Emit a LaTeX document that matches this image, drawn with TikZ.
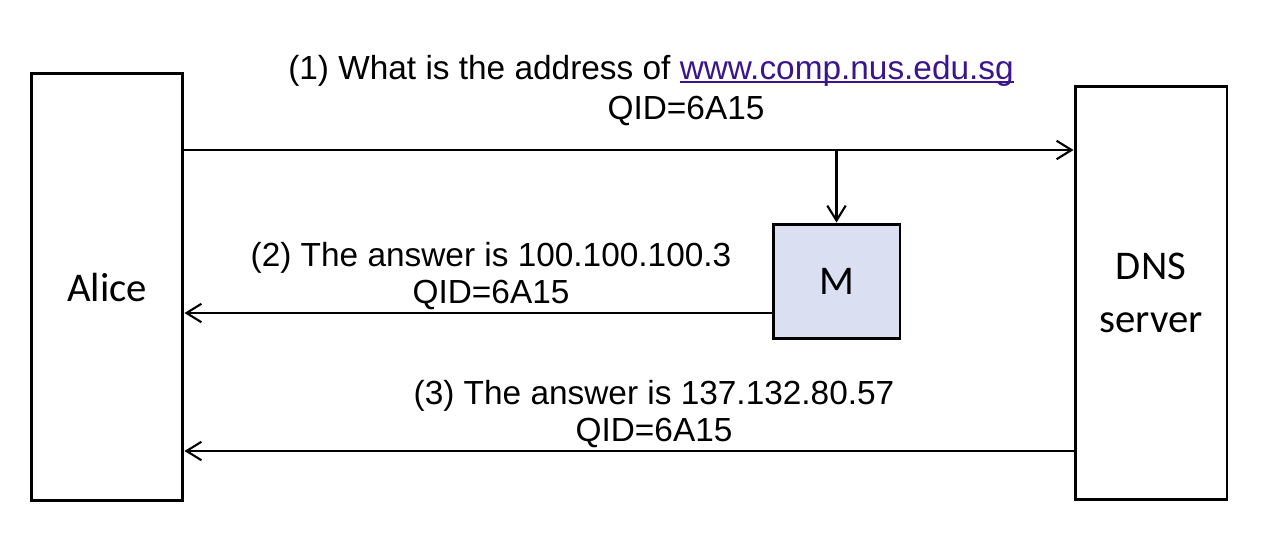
\documentclass[tikz,border=0pt]{standalone}
\usepackage{fontspec}
\setmainfont{Liberation Sans}
\newfontfamily\boxfont{Carlito}
\usetikzlibrary{arrows.meta}
\definecolor{mfill}{RGB}{218,224,242}
\definecolor{linkcol}{RGB}{60,20,140}
\newcommand\linkline[1]{\setbox0\hbox{#1}\rlap{\rule[-1.9pt]{\wd0}{1.1pt}}\box0}

\begin{document}
\begin{tikzpicture}[x=0.02cm,y=-0.02cm,
    party/.style={draw,line width=1.7pt,inner sep=0pt,align=center,font=\boxfont\fontsize{23.2}{30}\selectfont},
    msg/.style={align=center,inner sep=0pt,font=\fontsize{19}{21.5}\selectfont},
    flow/.style={->,line width=1.2pt},
    >={Straight Barb[length=8.5pt,width=10.5pt]}]
    \useasboundingbox (0,0) rectangle (1270,554);

    % hosts and attacker
    \node[party,minimum width=3.04cm,minimum height=8.56cm]             (Alice) at (107,287)   {Alice};
    \node[party,minimum width=3.04cm,minimum height=8.28cm,text depth=0.5pt] (DNS) at (1151,293) {DNS\\server};
    \node[party,fill=mfill,minimum width=2.54cm,minimum height=2.3cm]   (M)     at (836.5,281.5) {M};

    % message levels
    \coordinate (query) at (0,150);
    \coordinate (fake)  at (0,313);
    \coordinate (real)  at (0,451);

    \draw[flow] (Alice.east |- query) -- (DNS.west |- query);
    \draw[flow] (M.north |- query)    -- (M.north);
    \draw[flow] (M.west |- fake)      -- (Alice.east |- fake);
    \draw[flow] (DNS.west |- real)    -- (Alice.east |- real);

    % labels
    \node[msg,anchor=base] (ask)     at (651,80)  {(1) What is the address of \textcolor{linkcol}{\linkline{www.comp.nus.edu.sg}}};
    \node[msg,anchor=base] (askid)   at (686,119) {QID=6A15};
    \node[msg]             (forged)  at (491,276) {(2) The answer is 100.100.100.3\\QID=6A15};
    \node[msg]             (genuine) at (654,414) {(3) The answer is 137.132.80.57\\QID=6A15};
\end{tikzpicture}
\end{document}
